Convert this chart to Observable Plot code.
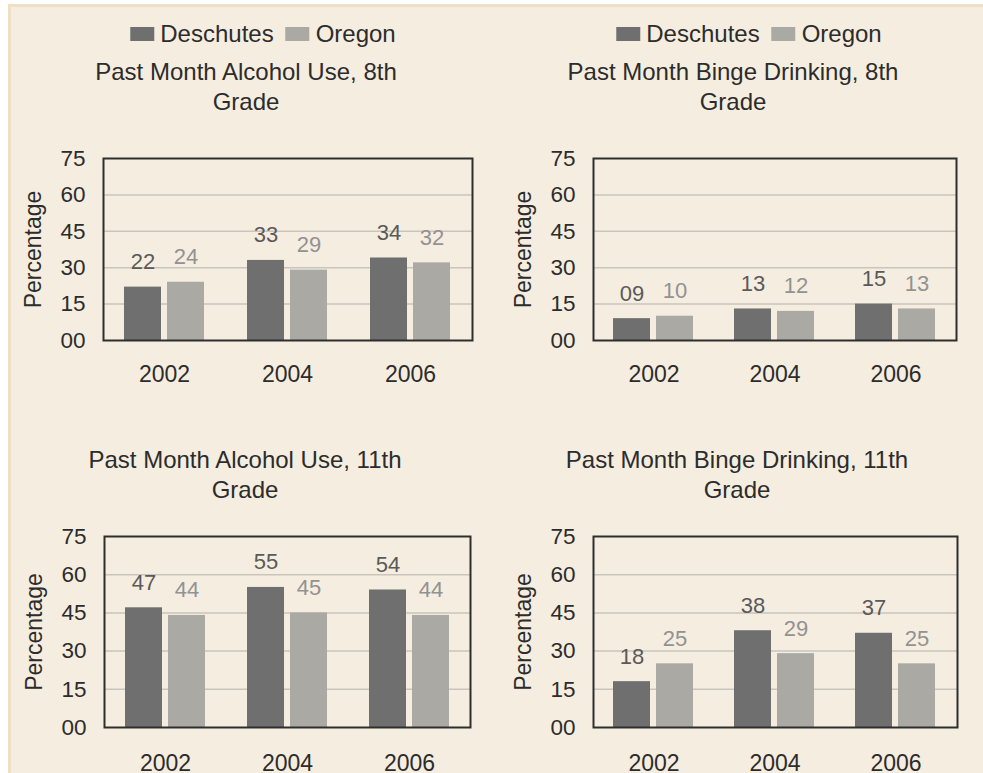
<!DOCTYPE html>
<html>
<head>
<meta charset="utf-8">
<script src="https://cdn.jsdelivr.net/npm/d3@7"></script>
<script src="https://cdn.jsdelivr.net/npm/@observablehq/plot@0.6"></script>
<style>
  html, body { margin: 0; padding: 0; background: #ffffff; }
  #page { position: relative; width: 983px; height: 773px; overflow: hidden; font-family: "Liberation Sans", Arial, sans-serif; color: #2c2c2c; }
  #card { position: absolute; left: 8px; top: 4px; width: 972px; height: 800px; background: #f5ede0; border-left: 3px solid #eee0c2; border-top: 3px solid #eee0c2; border-right: 3px solid #eee0c2; }
  .title { position: absolute; width: 520px; text-align: center; font-size: 24px; line-height: 30px; color: #2c2c2c; }
  .legend { position: absolute; display: flex; align-items: center; font-size: 24px; color: #2c2c2c; white-space: nowrap; transform: translateX(-50%); }
  .legend .sw { display: inline-block; width: 24px; height: 14px; margin-right: 6px; }
  .legend .item { display: flex; align-items: center; margin: 0 6px; }
  .panel { position: absolute; }
  .panel svg { position: absolute; left: 0; top: 0; }
</style>
</head>
<body>
<div id="page"><div id="card"></div></div>
<script>
// ---- data ----
const years = ["2002", "2004", "2006"];
const seriesNames = ["Deschutes", "Oregon"];
const alcohol8Deschutes = [22, 33, 34];
const alcohol8Oregon = [24, 29, 32];
const binge8Deschutes = [9, 13, 15];
const binge8Oregon = [10, 12, 13];
const alcohol11Deschutes = [47, 55, 54];
const alcohol11Oregon = [44, 45, 44];
const binge11Deschutes = [18, 38, 37];
const binge11Oregon = [25, 29, 25];
const yTicks = [0, 15, 30, 45, 60, 75];
const yGrid = [15, 30, 45, 60];
const yLabel = "Percentage";
const titles = [
  ["Past Month Alcohol Use, 8th", "Grade"],
  ["Past Month Binge Drinking, 8th", "Grade"],
  ["Past Month Alcohol Use, 11th", "Grade"],
  ["Past Month Binge Drinking, 11th", "Grade"]
];

// ---- styles / layout ----
const colors = ["#6f6f6f", "#aaa9a4"];
const labelColors = ["#5a5a5a", "#929292"];
const fmt = d3.format("02d");
const M = {left: 95, right: 20, top: 20, bottom: 50};
const FONT = '"Liberation Sans", Arial, sans-serif';

const panels = [
  {D: alcohol8Deschutes, O: alcohol8Oregon, title: titles[0], legend: 263, titleX: 246, titleY: 57, fl: 103, fr: 471.5, ft: 158, fb: 340, tp: 25},
  {D: binge8Deschutes, O: binge8Oregon, title: titles[1], legend: 749, titleX: 733, titleY: 57, fl: 593, fr: 956, ft: 158, fb: 340, tp: 25},
  {D: alcohol11Deschutes, O: alcohol11Oregon, title: titles[2], legend: null, titleX: 245, titleY: 445, fl: 104, fr: 470, ft: 536, fb: 727, tp: 27},
  {D: binge11Deschutes, O: binge11Oregon, title: titles[3], legend: null, titleX: 737, titleY: 445, fl: 593, fr: 957, ft: 536, fb: 727, tp: 27}
];

const page = document.getElementById("page");

function common(width, height) {
  return {
    width, height,
    marginLeft: M.left, marginRight: M.right, marginTop: M.top, marginBottom: M.bottom,
    style: {background: "transparent", fontFamily: FONT, fontSize: "23px", color: "#2c2c2c", overflow: "visible"},
    y: {domain: [0, 75], axis: null}
  };
}

// back layer: grid lines, y tick labels, y label
function backPlot(width, height) {
  return Plot.plot({
    ...common(width, height),
    marks: [
      Plot.ruleY(yGrid, {stroke: "#c9c5bd", strokeWidth: 1.5}),
      Plot.text(yTicks, {y: d => d, text: d => fmt(d), frameAnchor: "left", dx: -18, textAnchor: "end", fill: "#2c2c2c", fontSize: 22.5}),
      Plot.text([yLabel], {text: d => d, frameAnchor: "left", textAnchor: "middle", rotate: -90, dx: -70, fill: "#2c2c2c", fontSize: 23})
    ]
  });
}

// middle layer: grouped bars via fx facets
function barPlot(D, O, width, height, tp) {
  const data = years.flatMap((y, i) => [
    {year: y, series: seriesNames[0], value: D[i]},
    {year: y, series: seriesNames[1], value: O[i]}
  ]);
  return Plot.plot({
    ...common(width, height),
    fx: {domain: years, paddingInner: 0.33, paddingOuter: 0.165, label: null, axis: "bottom", tickSize: 0, tickPadding: tp},
    x: {domain: seriesNames, axis: null, paddingInner: 0.136, paddingOuter: 0},
    color: {domain: seriesNames, range: colors},
    marks: [
      Plot.barY(data, {fx: "year", x: "series", y: "value", fill: "series"}),
      Plot.text(data, {filter: d => d.series === seriesNames[0], fx: "year", x: "series", y: "value", text: d => fmt(d.value), dy: -25, fill: labelColors[0], fontSize: 22}),
      Plot.text(data, {filter: d => d.series === seriesNames[1], fx: "year", x: "series", y: "value", text: d => fmt(d.value), dy: -25, fill: labelColors[1], fontSize: 22})
    ]
  });
}

// front layer: plot frame
function framePlot(width, height) {
  return Plot.plot({
    ...common(width, height),
    marks: [Plot.frame({stroke: "#2e2e2e", strokeWidth: 2})]
  });
}

panels.forEach(p => {
  const w = Math.round(M.left + (p.fr - p.fl) + M.right);
  const h = Math.round(M.top + (p.fb - p.ft) + M.bottom);
  const wrap = document.createElement("div");
  wrap.className = "panel";
  wrap.style.left = (p.fl - M.left) + "px";
  wrap.style.top = (p.ft - M.top) + "px";
  wrap.style.width = w + "px";
  wrap.style.height = h + "px";
  wrap.appendChild(backPlot(w, h));
  wrap.appendChild(barPlot(p.D, p.O, w, h, p.tp));
  wrap.appendChild(framePlot(w, h));
  page.appendChild(wrap);

  const t = document.createElement("div");
  t.className = "title";
  t.style.left = (p.titleX - 260) + "px";
  t.style.top = p.titleY + "px";
  t.innerHTML = p.title.join("<br>");
  page.appendChild(t);

  if (p.legend !== null) {
    const lg = document.createElement("div");
    lg.className = "legend";
    lg.style.left = p.legend + "px";
    lg.style.top = "20px";
    seriesNames.forEach((s, i) => {
      const it = document.createElement("span");
      it.className = "item";
      const sw = document.createElement("span");
      sw.className = "sw";
      sw.style.background = colors[i];
      it.appendChild(sw);
      it.appendChild(document.createTextNode(s));
      lg.appendChild(it);
    });
    page.appendChild(lg);
  }
});
</script>
</body>
</html>
